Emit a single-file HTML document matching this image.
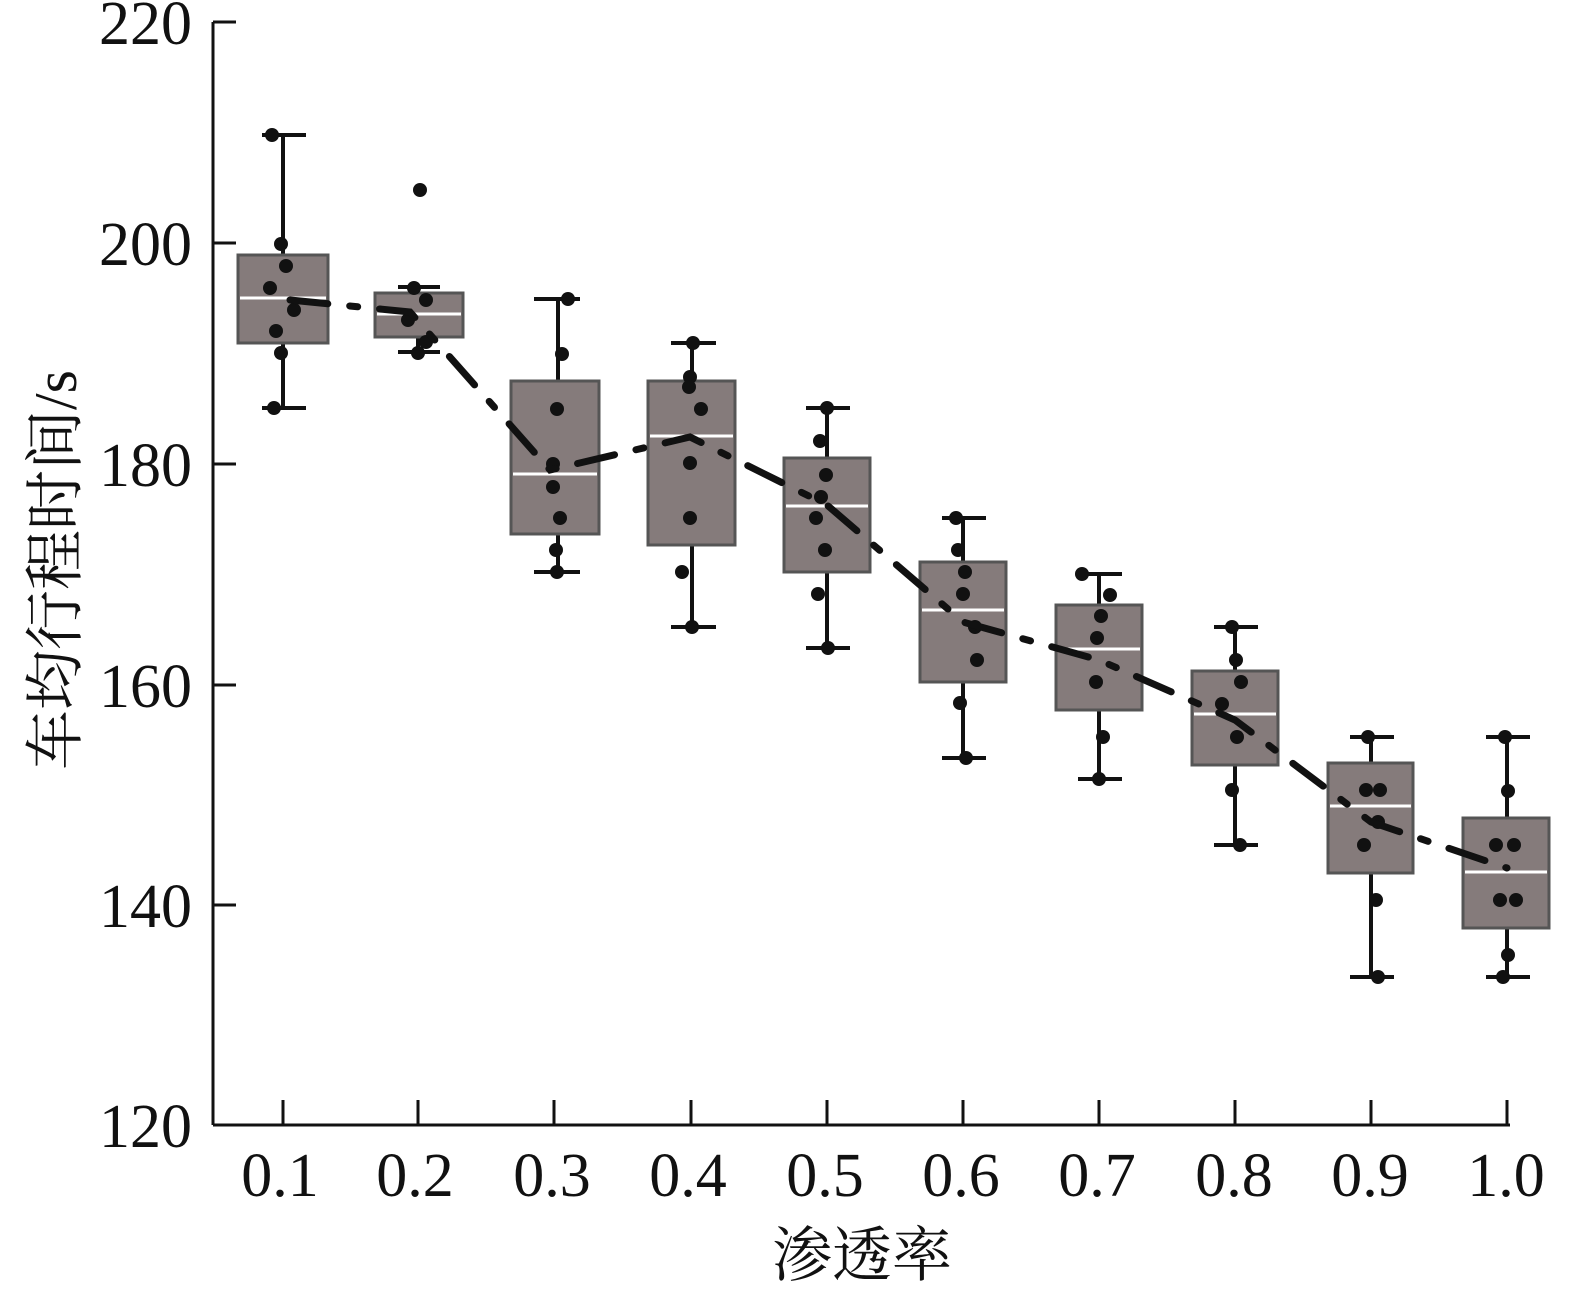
<!DOCTYPE html>
<html><head><meta charset="utf-8"><style>
body{margin:0;background:#fff}
svg text{font-family:"Liberation Serif","Noto Serif CJK SC",serif;fill:#111}
</style></head><body>
<svg width="1575" height="1298" viewBox="0 0 1575 1298" xmlns="http://www.w3.org/2000/svg">
<g stroke="#111" stroke-width="3" fill="none">
<line x1="213" y1="22" x2="213" y2="1125"/>
<line x1="213" y1="1125" x2="1510" y2="1125"/>
<line x1="213" y1="22" x2="236" y2="22"/>
<line x1="213" y1="243" x2="236" y2="243"/>
<line x1="213" y1="464" x2="236" y2="464"/>
<line x1="213" y1="685" x2="236" y2="685"/>
<line x1="213" y1="905" x2="236" y2="905"/>
<line x1="283" y1="1100" x2="283" y2="1125"/><line x1="418" y1="1100" x2="418" y2="1125"/><line x1="554" y1="1100" x2="554" y2="1125"/><line x1="691" y1="1100" x2="691" y2="1125"/><line x1="827" y1="1100" x2="827" y2="1125"/><line x1="963" y1="1100" x2="963" y2="1125"/><line x1="1099" y1="1100" x2="1099" y2="1125"/><line x1="1235" y1="1100" x2="1235" y2="1125"/><line x1="1371" y1="1100" x2="1371" y2="1125"/><line x1="1507" y1="1100" x2="1507" y2="1125"/>
</g>
<g font-size="62" text-anchor="end">
<text x="192" y="44">220</text><text x="192" y="265">200</text><text x="192" y="486">180</text><text x="192" y="707">160</text><text x="192" y="927">140</text><text x="192" y="1147">120</text>
</g>
<g font-size="62" text-anchor="middle">
<text x="280" y="1196">0.1</text><text x="415" y="1196">0.2</text><text x="552" y="1196">0.3</text><text x="688" y="1196">0.4</text><text x="825" y="1196">0.5</text><text x="961" y="1196">0.6</text><text x="1097" y="1196">0.7</text><text x="1234" y="1196">0.8</text><text x="1370" y="1196">0.9</text><text x="1506" y="1196">1.0</text>
<text x="862" y="1276" font-size="60">渗透率</text>
</g>
<text transform="translate(76,570) rotate(-90)" font-size="60" text-anchor="middle">车均行程时间/s</text>

<g stroke="#111" stroke-width="4">
<line x1="283" y1="135" x2="283" y2="408"/><line x1="262" y1="135" x2="306" y2="135"/><line x1="262" y1="408" x2="306" y2="408"/>
<line x1="418" y1="287" x2="418" y2="352"/><line x1="398" y1="287" x2="440" y2="287"/><line x1="398" y1="352" x2="440" y2="352"/>
<line x1="558" y1="299" x2="558" y2="572"/><line x1="534" y1="299" x2="580" y2="299"/><line x1="534" y1="572" x2="580" y2="572"/>
<line x1="692" y1="343" x2="692" y2="627"/><line x1="671" y1="343" x2="716" y2="343"/><line x1="671" y1="627" x2="716" y2="627"/>
<line x1="827" y1="408" x2="827" y2="648"/><line x1="806" y1="408" x2="850" y2="408"/><line x1="806" y1="648" x2="850" y2="648"/>
<line x1="963" y1="518" x2="963" y2="758"/><line x1="942" y1="518" x2="986" y2="518"/><line x1="942" y1="758" x2="986" y2="758"/>
<line x1="1099" y1="574" x2="1099" y2="779"/><line x1="1078" y1="574" x2="1122" y2="574"/><line x1="1078" y1="779" x2="1122" y2="779"/>
<line x1="1235" y1="627" x2="1235" y2="845"/><line x1="1214" y1="627" x2="1258" y2="627"/><line x1="1214" y1="845" x2="1258" y2="845"/>
<line x1="1371" y1="737" x2="1371" y2="977"/><line x1="1350" y1="737" x2="1394" y2="737"/><line x1="1350" y1="977" x2="1394" y2="977"/>
<line x1="1507" y1="737" x2="1507" y2="977"/><line x1="1486" y1="737" x2="1530" y2="737"/><line x1="1486" y1="977" x2="1530" y2="977"/>
</g>
<g fill="#857b7b" stroke="#555" stroke-width="3">
<rect x="238" y="255" width="90" height="88"/>
<rect x="375" y="293" width="88" height="44"/>
<rect x="511" y="381" width="88" height="153"/>
<rect x="648" y="381" width="87" height="164"/>
<rect x="784" y="458" width="86" height="114"/>
<rect x="920" y="562" width="86" height="120"/>
<rect x="1056" y="605" width="86" height="105"/>
<rect x="1192" y="671" width="86" height="94"/>
<rect x="1328" y="763" width="85" height="110"/>
<rect x="1463" y="818" width="86" height="110"/>
</g>
<g stroke="#fff" stroke-width="3">
<line x1="240" y1="298" x2="326" y2="298"/><line x1="377" y1="314" x2="461" y2="314"/><line x1="513" y1="474" x2="597" y2="474"/><line x1="650" y1="436" x2="733" y2="436"/><line x1="786" y1="506" x2="868" y2="506"/><line x1="922" y1="610" x2="1004" y2="610"/><line x1="1058" y1="649" x2="1140" y2="649"/><line x1="1194" y1="714" x2="1276" y2="714"/><line x1="1330" y1="806" x2="1411" y2="806"/><line x1="1465" y1="872" x2="1547" y2="872"/>
</g>
<g fill="#111">
<circle cx="272" cy="135" r="7"/><circle cx="281" cy="244" r="7"/><circle cx="286" cy="266" r="7"/><circle cx="270" cy="288" r="7"/><circle cx="294" cy="310" r="7"/><circle cx="276" cy="331" r="7"/><circle cx="281" cy="353" r="7"/><circle cx="274" cy="408" r="7"/>
<circle cx="420" cy="190" r="7"/><circle cx="414" cy="288" r="7"/><circle cx="426" cy="300" r="7"/><circle cx="408" cy="320" r="7"/><circle cx="426" cy="342" r="7"/><circle cx="418" cy="353" r="7"/>
<circle cx="568" cy="299" r="7"/><circle cx="562" cy="354" r="7"/><circle cx="557" cy="409" r="7"/><circle cx="553" cy="464" r="7"/><circle cx="553" cy="487" r="7"/><circle cx="560" cy="518" r="7"/><circle cx="556" cy="550" r="7"/><circle cx="557" cy="572" r="7"/>
<circle cx="693" cy="343" r="7"/><circle cx="690" cy="377" r="7"/><circle cx="689" cy="387" r="7"/><circle cx="701" cy="409" r="7"/><circle cx="690" cy="463" r="7"/><circle cx="690" cy="518" r="7"/><circle cx="682" cy="572" r="7"/><circle cx="692" cy="627" r="7"/>
<circle cx="827" cy="408" r="7"/><circle cx="820" cy="441" r="7"/><circle cx="826" cy="475" r="7"/><circle cx="821" cy="497" r="7"/><circle cx="816" cy="518" r="7"/><circle cx="825" cy="550" r="7"/><circle cx="818" cy="594" r="7"/><circle cx="828" cy="648" r="7"/>
<circle cx="956" cy="518" r="7"/><circle cx="958" cy="550" r="7"/><circle cx="965" cy="572" r="7"/><circle cx="963" cy="594" r="7"/><circle cx="975" cy="627" r="7"/><circle cx="977" cy="660" r="7"/><circle cx="960" cy="703" r="7"/><circle cx="966" cy="758" r="7"/>
<circle cx="1082" cy="574" r="7"/><circle cx="1110" cy="595" r="7"/><circle cx="1101" cy="616" r="7"/><circle cx="1097" cy="638" r="7"/><circle cx="1096" cy="682" r="7"/><circle cx="1103" cy="737" r="7"/><circle cx="1099" cy="779" r="7"/>
<circle cx="1232" cy="627" r="7"/><circle cx="1236" cy="660" r="7"/><circle cx="1241" cy="682" r="7"/><circle cx="1222" cy="704" r="7"/><circle cx="1237" cy="737" r="7"/><circle cx="1232" cy="790" r="7"/><circle cx="1240" cy="845" r="7"/>
<circle cx="1368" cy="737" r="7"/><circle cx="1366" cy="790" r="7"/><circle cx="1380" cy="790" r="7"/><circle cx="1378" cy="822" r="7"/><circle cx="1364" cy="845" r="7"/><circle cx="1376" cy="900" r="7"/><circle cx="1378" cy="977" r="7"/>
<circle cx="1505" cy="737" r="7"/><circle cx="1508" cy="791" r="7"/><circle cx="1496" cy="845" r="7"/><circle cx="1514" cy="845" r="7"/><circle cx="1500" cy="900" r="7"/><circle cx="1516" cy="900" r="7"/><circle cx="1508" cy="955" r="7"/><circle cx="1503" cy="977" r="7"/>
</g>
<polyline points="290,300 410,312 550,470 690,437 827,505 963,622 1099,660 1235,720 1371,822 1507,868" fill="none" stroke="#111" stroke-width="7" stroke-dasharray="38,22,8,22" stroke-linecap="round"/>
</svg>
</body></html>
